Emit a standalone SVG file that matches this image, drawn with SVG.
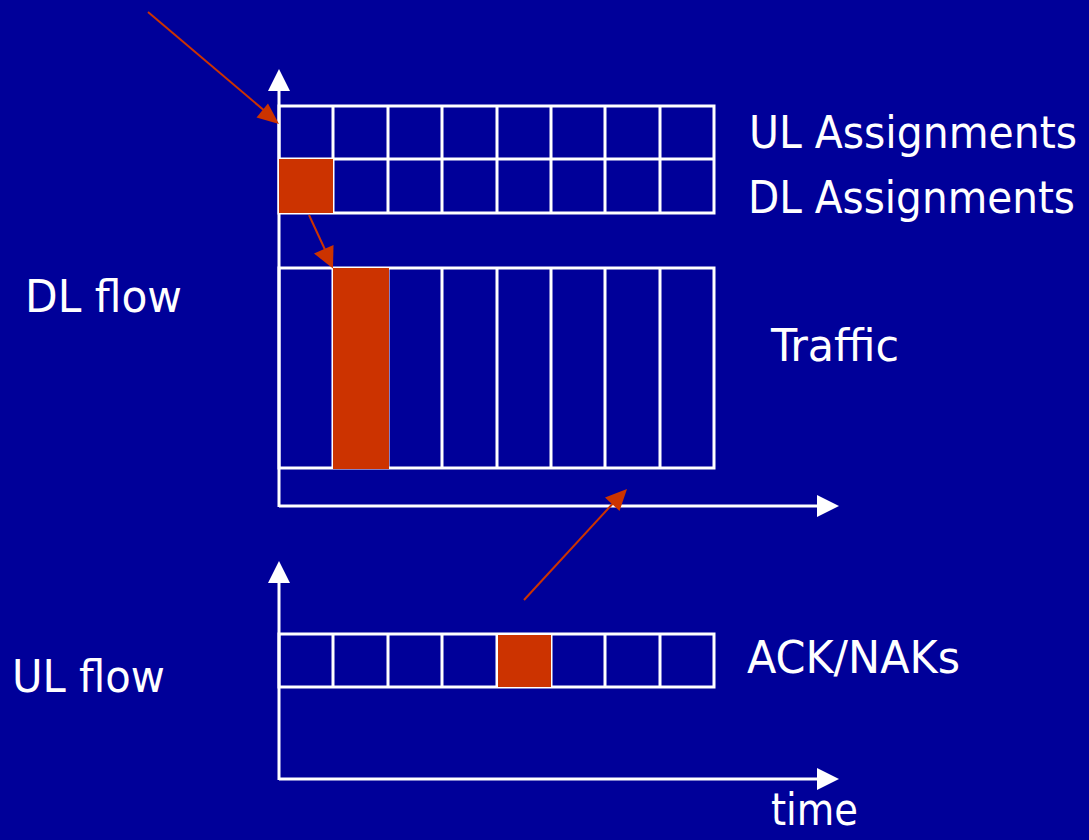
<svg xmlns="http://www.w3.org/2000/svg" width="1089" height="840" viewBox="0 0 1089 840">
  <defs>
    <style>
      .bg { fill: #000099; }
      .axis { stroke: #ffffff; stroke-width: 3; fill: none; }
      .grid { stroke: #ffffff; stroke-width: 3; fill: none; }
      .hit { fill: #cc3300; }
      .pointer { stroke: #cc3300; stroke-width: 2; fill: none; }
      .head-w { fill: #ffffff; }
      .head-r { fill: #cc3300; }
      .label { fill: #ffffff; font-family: "DejaVu Sans Condensed", "DejaVu Sans", "Liberation Sans", sans-serif; font-stretch: condensed; font-size: 45px; }
    </style>
  </defs>

  <rect class="bg" x="0" y="0" width="1089" height="840"/>

  <!-- upper (downlink) time axis -->
  <g id="dl-axis">
    <line class="axis" x1="279" y1="88" x2="279" y2="507"/>
    <line class="axis" x1="279" y1="506" x2="818" y2="506"/>
    <polygon class="head-w" points="279,69 268,91 290,91"/>
    <polygon class="head-w" points="839,506 817,495 817,517"/>
  </g>

  <!-- lower (uplink) time axis -->
  <g id="ul-axis">
    <line class="axis" x1="279" y1="580" x2="279" y2="780"/>
    <line class="axis" x1="279" y1="779" x2="818" y2="779"/>
    <polygon class="head-w" points="279,561 268,583 290,583"/>
    <polygon class="head-w" points="839,779 817,768 817,790"/>
  </g>

  <!-- UL / DL assignment slots -->
  <g id="assignments">
    <path class="grid" d="M279,106 H714 V213 H279 Z M279,159 H714 M333,106 V213 M388,106 V213 M442,106 V213 M497,106 V213 M551,106 V213 M605,106 V213 M660,106 V213"/>
    <rect class="hit" x="279" y="159" width="54" height="54"/>
  </g>

  <!-- traffic slots -->
  <g id="traffic">
    <path class="grid" d="M279,268 H714 V468 H279 Z M333,268 V468 M388,268 V468 M442,268 V468 M497,268 V468 M551,268 V468 M605,268 V468 M660,268 V468"/>
    <rect class="hit" x="333" y="268" width="56" height="201"/>
  </g>

  <!-- ACK/NAK slots -->
  <g id="acknak">
    <path class="grid" d="M279,634 H714 V687 H279 Z M333,634 V687 M388,634 V687 M442,634 V687 M497,634 V687 M551,634 V687 M605,634 V687 M660,634 V687"/>
    <rect class="hit" x="498" y="635" width="53" height="52"/>
  </g>

  <!-- pointers -->
  <g id="connectors">
    <line class="pointer" x1="148" y1="12" x2="266" y2="112"/>
    <polygon class="head-r" points="279,124 256.5,117.5 268,103.5"/>
    <line class="pointer" x1="309" y1="215" x2="327" y2="254"/>
    <polygon class="head-r" points="333,268.5 314,253.5 333.5,245"/>
    <line class="pointer" x1="524" y1="600" x2="617" y2="499"/>
    <polygon class="head-r" points="627,489 605,497.5 619.5,511"/>
  </g>

  <!-- labels -->
  <g id="labels">
    <text class="label" x="749" y="148" textLength="328" lengthAdjust="spacingAndGlyphs">UL Assignments</text>
    <text class="label" x="748" y="213" textLength="327" lengthAdjust="spacingAndGlyphs">DL Assignments</text>
    <text class="label" x="25" y="312" textLength="157" lengthAdjust="spacingAndGlyphs">DL flow</text>
    <text class="label" x="771" y="361" textLength="128" lengthAdjust="spacingAndGlyphs">Traffic</text>
    <text class="label" x="747" y="673" textLength="213" lengthAdjust="spacingAndGlyphs">ACK/NAKs</text>
    <text class="label" x="12" y="692" textLength="153" lengthAdjust="spacingAndGlyphs">UL flow</text>
    <text class="label" x="771" y="825" textLength="87" lengthAdjust="spacingAndGlyphs">time</text>
  </g>
</svg>
